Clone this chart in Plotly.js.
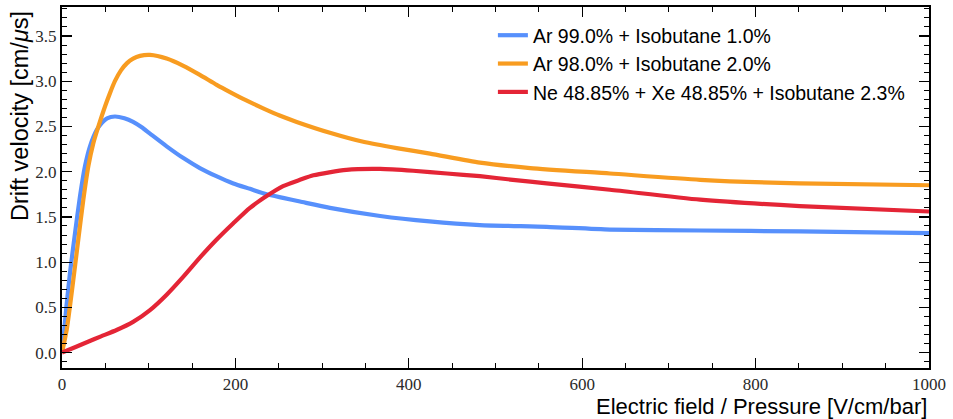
<!DOCTYPE html>
<html>
<head>
<meta charset="utf-8">
<script src="https://cdn.plot.ly/plotly-3.0.1.min.js"></script>
<style>html,body{margin:0;padding:0;background:#fff}#chart{width:953px;height:419px}</style>
</head>
<body>
<div id="chart"></div>
<script>
// Series names
const seriesNames = [
  "Ar 99.0% + Isobutane 1.0%",
  "Ar 98.0% + Isobutane 2.0%",
  "Ne 48.85% + Xe 48.85% + Isobutane 2.3%"
];
// Ar 99 / iC4H10 1
const arIso1X = [0, 2.3, 5, 9.2, 15, 20.8, 26.5, 32.3, 40, 46, 52, 61, 72, 82, 92, 101.5, 120.7, 140, 159, 178, 197.6, 216.8, 236, 255, 274.5, 309, 367, 424, 482, 559, 632, 736, 851, 1000];
const arIso1Y = [0, 0.22, 0.5, 0.88, 1.32, 1.73, 2.06, 2.28, 2.46, 2.54, 2.59, 2.61, 2.59, 2.55, 2.49, 2.42, 2.28, 2.15, 2.04, 1.95, 1.87, 1.81, 1.75, 1.71, 1.67, 1.60, 1.51, 1.45, 1.41, 1.39, 1.36, 1.35, 1.34, 1.32];
// Ar 98 / iC4H10 2
const arIso2X = [0, 5.4, 13, 18.8, 24.6, 30.4, 36, 42, 49.6, 55, 61, 68, 75, 82, 90, 101.5, 120.7, 140, 159, 178.4, 193.8, 212, 232, 251, 270.7, 309, 347.5, 386, 424.5, 482, 540, 632, 736, 851, 1000];
const arIso2Y = [0, 0.25, 0.8, 1.25, 1.69, 2.06, 2.31, 2.50, 2.72, 2.86, 3.00, 3.12, 3.20, 3.25, 3.28, 3.29, 3.25, 3.17, 3.07, 2.96, 2.88, 2.79, 2.70, 2.62, 2.55, 2.43, 2.33, 2.26, 2.20, 2.10, 2.04, 1.98, 1.91, 1.87, 1.85];
// Ne / Xe / iC4H10
const neXeX = [0, 15, 30, 45, 63, 82, 101.5, 120.7, 140, 159, 178.4, 197.6, 216.8, 236, 255, 274.5, 290, 328, 367, 405, 444, 482, 520, 559, 632, 736, 851, 1000];
const neXeY = [0, 0.06, 0.12, 0.18, 0.25, 0.34, 0.47, 0.64, 0.84, 1.05, 1.25, 1.43, 1.60, 1.73, 1.84, 1.91, 1.96, 2.02, 2.03, 2.01, 1.98, 1.95, 1.91, 1.87, 1.80, 1.69, 1.62, 1.56];

const colors = ["#5790fc", "#f89c20", "#e42536"];
const xs = [arIso1X, arIso2X, neXeX];
const ys = [arIso1Y, arIso2Y, neXeY];

const traces = xs.map((x, i) => ({
  x: x, y: ys[i], name: seriesNames[i], type: "scatter", mode: "lines",
  line: {color: colors[i], width: 4.2, shape: "spline", smoothing: 0.6}
}));

const sansFamily = "Liberation Sans";
function axisBase() {
  return {
    showline: true, linecolor: "#000", linewidth: 2, mirror: "allticks",
    ticks: "inside", ticklen: 10, tickwidth: 1.2, tickcolor: "#000",
    showgrid: false, zeroline: false,
    tickfont: {family: "Liberation Serif", size: 17, color: "#2a2a2a"}
  };
}

const layout = {
  width: 953, height: 419,
  margin: {l: 62, r: 24, t: 7, b: 51},
  paper_bgcolor: "#fff", plot_bgcolor: "#fff",
  showlegend: true,
  legend: {
    x: 0.497, y: 0.975, xanchor: "left", yanchor: "top",
    bgcolor: "rgba(0,0,0,0)", borderwidth: 0,
    font: {family: sansFamily, size: 19.5, color: "#000"}
  },
  xaxis: Object.assign(axisBase(), {
    range: [0, 1000], dtick: 200, tick0: 0,
    minor: {dtick: 50, ticks: "inside", ticklen: 5, tickcolor: "#000", tickwidth: 1}
  }),
  yaxis: Object.assign(axisBase(), {
    range: [-0.17, 3.82], dtick: 0.5, tick0: 0, tickformat: ".1f",
    minor: {dtick: 0.1, ticks: "inside", ticklen: 5, tickcolor: "#000", tickwidth: 1}
  }),
  annotations: [
    {text: "Electric field / Pressure [V/cm/bar]", xref: "paper", yref: "paper",
     x: 1, y: 0, xanchor: "right", yanchor: "middle", yshift: -38, showarrow: false,
     font: {family: sansFamily, size: 22, color: "#000"}},
    {text: "Drift velocity [cm/<i>μ</i>s]", xref: "paper", yref: "paper",
     x: 0, y: 1, xanchor: "center", yanchor: "top", xshift: -42, yshift: -2,
     textangle: -90, showarrow: false,
     font: {family: sansFamily, size: 23.5, color: "#000"}}
  ]
};

Plotly.newPlot("chart", traces, layout, {displayModeBar: false, staticPlot: true});
</script>
</body>
</html>
